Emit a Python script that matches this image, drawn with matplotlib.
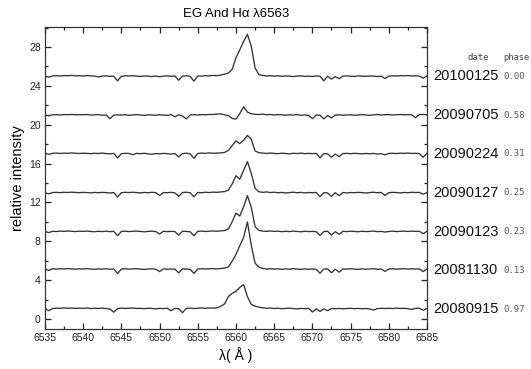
import matplotlib
matplotlib.use("Agg")
import matplotlib.pyplot as plt
import matplotlib.transforms as mtransforms
import numpy as np
from matplotlib.ticker import MultipleLocator

# wavelength sampling (Angstrom), 0.5 A steps from 6535 to 6585
wave = np.arange(6535.0, 6585.01, 0.5)

dates = ["20100125", "20090705", "20090224", "20090127", "20090123", "20081130", "20080915"]
phases = ["0.00", "0.58", "0.31", "0.25", "0.23", "0.13", "0.97"]
offsets = [24, 20, 16, 12, 8, 4, 0]

# normalised flux (one row = 5 A)
flux_20100125 = [
    1.00, 0.90, 1.02, 1.05, 1.02, 1.06, 1.04, 1.08, 1.03, 1.05,
    1.02, 1.06, 1.03, 1.00, 0.92, 1.01, 1.03, 0.98, 1.00, 0.52,
    0.98, 1.04, 1.02, 1.05, 1.00, 0.97, 1.02, 1.00, 0.96, 1.01,
    0.95, 1.00, 1.03, 0.98, 1.02, 0.58, 1.00, 1.04, 0.98, 0.48,
    1.02, 1.00, 1.05, 1.03, 1.08, 1.05, 1.12, 1.20, 1.32, 1.70,
    2.90, 3.70, 4.60, 5.30, 4.10, 1.85, 1.15, 1.08, 1.02, 1.05,
    1.00, 1.04, 0.98, 1.02, 1.00, 0.96, 1.01, 1.03, 0.98, 1.00,
    0.97, 1.02, 0.99, 0.52, 1.00, 0.70, 0.95, 0.74, 1.00, 1.02,
    1.00, 0.97, 1.03, 1.00, 0.98, 1.02, 1.00, 0.96, 1.00, 0.75,
    1.00, 1.04, 1.02, 1.05, 1.03, 1.06, 1.02, 1.04, 1.00, 0.80,
    1.02]
flux_20090705 = [
    1.00, 0.92, 1.02, 1.04, 1.00, 1.05, 1.03, 1.06, 1.02, 1.04,
    1.03, 1.05, 1.00, 1.02, 1.04, 0.98, 1.00, 0.62, 0.98, 1.02,
    1.00, 1.03, 0.97, 1.01, 1.04, 1.00, 0.96, 1.02, 1.00, 0.98,
    1.02, 1.00, 0.96, 1.04, 0.82, 1.02, 0.90, 0.60, 1.00, 1.03,
    1.00, 1.04, 1.02, 1.06, 1.05, 1.10, 1.12, 1.02, 0.95, 0.65,
    0.58, 1.15, 1.85, 1.30, 1.12, 1.08, 1.05, 1.10, 1.02, 1.06,
    1.00, 1.04, 1.02, 0.98, 1.03, 1.00, 1.04, 0.97, 1.01, 0.96,
    0.62, 1.00, 0.98, 0.60, 0.95, 0.70, 1.00, 1.02, 0.98, 1.00,
    1.02, 0.98, 1.00, 1.04, 1.00, 0.97, 1.02, 1.05, 1.00, 1.03,
    1.04, 1.00, 1.03, 1.05, 1.02, 1.04, 1.02, 0.72, 1.04, 1.06,
    1.03]
flux_20090224 = [
    1.05, 0.95, 1.06, 1.08, 1.04, 1.08, 1.05, 1.10, 1.06, 1.04,
    1.07, 1.05, 1.02, 1.06, 1.04, 1.08, 1.03, 1.00, 1.05, 0.58,
    1.02, 1.06, 1.04, 0.92, 1.05, 1.02, 1.06, 1.00, 0.96, 1.04,
    1.00, 1.05, 1.02, 0.98, 1.04, 0.68, 1.03, 1.07, 1.00, 0.55,
    1.04, 1.08, 1.05, 1.10, 1.06, 1.08, 1.10, 1.15, 1.35, 1.85,
    2.35, 2.05, 2.40, 2.90, 2.50, 1.30, 1.12, 1.08, 1.04, 1.09,
    1.05, 1.02, 1.07, 1.04, 1.00, 1.06, 1.03, 1.08, 1.02, 1.05,
    1.02, 1.06, 0.58, 1.02, 1.00, 0.65, 0.98, 0.72, 1.03, 1.05,
    1.02, 1.06, 1.03, 1.00, 1.04, 1.01, 1.05, 0.98, 1.02, 0.90,
    1.04, 1.06, 1.03, 1.07, 1.05, 1.08, 1.04, 1.06, 1.03, 0.65,
    1.05]
flux_20090127 = [
    1.00, 0.88, 1.02, 1.04, 1.01, 1.05, 1.02, 1.06, 1.03, 1.01,
    1.04, 1.02, 0.98, 1.03, 1.00, 1.04, 1.01, 0.97, 1.02, 0.55,
    1.00, 1.04, 1.02, 1.05, 1.01, 0.98, 1.03, 1.00, 1.04, 1.01,
    0.72, 1.02, 1.00, 1.04, 0.98, 0.62, 1.02, 1.05, 1.00, 0.58,
    1.03, 1.00, 1.05, 1.02, 1.06, 1.04, 1.08, 1.12, 1.27, 1.90,
    2.75, 2.40, 3.30, 4.20, 3.00, 1.45, 1.10, 1.04, 1.08, 1.02,
    1.05, 1.00, 1.03, 0.97, 1.02, 1.05, 1.00, 1.04, 0.98, 1.02,
    1.00, 1.03, 0.58, 1.00, 0.98, 0.62, 1.00, 0.70, 1.02, 0.98,
    1.02, 1.00, 1.04, 1.01, 0.97, 1.02, 1.05, 1.00, 1.03, 0.72,
    1.00, 1.04, 1.02, 0.98, 1.03, 1.00, 1.05, 1.02, 1.04, 0.85,
    1.02]
flux_20090123 = [
    1.00, 0.90, 1.03, 1.01, 1.05, 1.02, 1.06, 1.03, 1.00, 1.04,
    1.02, 1.05, 1.01, 0.98, 1.03, 1.00, 1.04, 0.99, 1.02, 0.57,
    1.01, 1.04, 1.00, 1.03, 1.05, 1.01, 0.97, 1.02, 1.04, 1.00,
    0.75, 1.03, 0.99, 1.02, 1.00, 0.62, 1.04, 1.01, 0.98, 0.57,
    1.02, 1.05, 1.01, 1.04, 1.06, 1.03, 1.08, 1.10, 1.27, 2.00,
    2.90, 2.60, 3.55, 4.70, 3.50, 1.50, 1.12, 1.05, 1.02, 1.06,
    1.02, 1.04, 0.99, 1.03, 1.00, 1.05, 1.01, 0.98, 1.03, 1.00,
    1.02, 0.99, 0.60, 1.01, 1.03, 0.64, 0.99, 0.72, 1.02, 1.00,
    1.04, 1.01, 0.98, 1.03, 1.00, 1.02, 1.05, 0.99, 1.02, 0.95,
    1.01, 1.04, 1.00, 1.03, 1.05, 1.01, 1.04, 1.02, 1.03, 0.78,
    1.02]
flux_20081130 = [
    1.15, 1.00, 1.17, 1.14, 1.18, 1.15, 1.19, 1.16, 1.13, 1.17,
    1.15, 1.18, 1.14, 1.11, 1.16, 1.13, 1.17, 1.12, 1.15, 0.68,
    1.14, 1.17, 1.13, 1.16, 1.18, 1.14, 1.10, 1.15, 1.17, 1.13,
    0.88, 1.16, 1.12, 1.15, 1.13, 0.75, 1.17, 1.14, 1.11, 0.70,
    1.15, 1.18, 1.14, 1.17, 1.19, 1.16, 1.20, 1.25, 1.35, 1.95,
    2.65, 3.55, 4.40, 6.00, 3.60, 1.75, 1.35, 1.20, 1.15, 1.18,
    1.14, 1.17, 1.12, 1.16, 1.13, 1.18, 1.14, 1.11, 1.16, 1.13,
    1.15, 1.12, 0.72, 1.14, 1.16, 0.76, 1.12, 0.82, 1.15, 1.13,
    1.17, 1.14, 1.11, 1.16, 1.13, 1.15, 1.18, 1.12, 1.15, 0.90,
    1.14, 1.17, 1.13, 1.16, 1.18, 1.14, 1.17, 1.15, 1.16, 0.88,
    1.15]
flux_20080915 = [
    1.10, 0.85, 1.08, 1.12, 1.10, 1.14, 1.11, 1.13, 1.09, 1.12,
    1.10, 1.13, 1.08, 1.11, 1.09, 1.12, 1.07, 1.03, 0.70, 1.08,
    1.12, 1.09, 1.11, 1.13, 1.08, 1.10, 1.06, 1.11, 1.09, 1.04,
    1.10, 1.07, 1.11, 0.85, 1.09, 1.06, 0.65, 1.10, 1.12, 1.08,
    1.11, 1.14, 1.10, 1.13, 1.12, 1.15, 1.30, 1.55, 2.30, 2.65,
    2.85, 3.25, 3.55, 2.30, 1.50, 1.32, 1.22, 1.15, 1.10, 1.13,
    1.08, 1.11, 1.06, 1.09, 1.12, 1.07, 1.04, 1.09, 1.06, 1.10,
    0.72, 1.05, 0.78, 1.04, 0.85, 1.08, 1.06, 1.09, 1.05, 1.08,
    1.10, 1.06, 1.09, 1.05, 1.08, 1.04, 0.92, 1.07, 1.10, 1.08,
    1.11, 1.08, 1.12, 1.09, 1.10, 1.06, 0.98, 1.09, 1.11, 0.90,
    1.08]

spectra = [flux_20100125, flux_20090705, flux_20090224, flux_20090127,
           flux_20090123, flux_20081130, flux_20080915]

plt.rcParams['font.family'] = ['Liberation Sans', 'DejaVu Sans']

fig = plt.figure(figsize=(5.31, 3.69), dpi=100)
ax = fig.add_axes([0.0847, 0.1084, 0.7194, 0.8184])

for flux, off in zip(spectra, offsets):
    ax.plot(wave, np.array(flux) + off, color="#333333", lw=0.95)

ax.set_xlim(6535, 6585)
ax.set_ylim(-1.03, 30.06)
ax.xaxis.set_major_locator(MultipleLocator(5))
ax.xaxis.set_minor_locator(MultipleLocator(2.5))
ax.yaxis.set_major_locator(MultipleLocator(4))
ax.yaxis.set_minor_locator(MultipleLocator(2))
ax.tick_params(which="both", direction="in", top=True, right=True,
               labelsize=7.5, colors="#222222", width=0.9)
ax.tick_params(which="major", length=4, pad=3)
ax.tick_params(which="minor", length=2.5)
for s in ax.spines.values():
    s.set_linewidth(0.9)
    s.set_color("#333333")

ax.set_xlabel("λ( Å )", fontsize=10, labelpad=3)
ax.set_ylabel("relative intensity", fontsize=10.5, labelpad=3)
ax.set_title("EG And Hα λ6563", fontsize=9.5, pad=7)

trans = mtransforms.blended_transform_factory(ax.transAxes, ax.transData)
for d, p, off in zip(dates, phases, offsets):
    ax.text(1.016, off + 1.0, d, transform=trans, fontsize=10.5,
            va="center", ha="left", color="#111111", clip_on=False)
    ax.text(1.199, off + 1.0, p, transform=trans, fontsize=6.5,
            family="DejaVu Sans Mono", va="center", ha="left",
            color="#555555", clip_on=False)
ax.text(1.107, 26.9, "date", transform=trans, fontsize=6.5,
        family="DejaVu Sans Mono", va="center", ha="left", color="#444444")
ax.text(1.199, 26.9, "phase", transform=trans, fontsize=6.3,
        family="DejaVu Sans Mono", va="center", ha="left", color="#444444")

fig.savefig("out.png", dpi=100)
